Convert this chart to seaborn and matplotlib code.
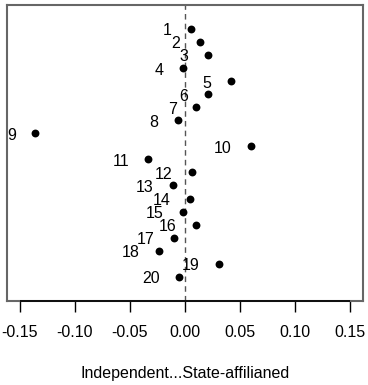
import numpy as np
import pandas as pd
import matplotlib
matplotlib.use('Agg')
import matplotlib.pyplot as plt
import seaborn as sns

# point estimates, in display order (top to bottom)
labels = [str(i) for i in range(1, 21)]
estimates = [0.0055, 0.0134, 0.0206, -0.0021, 0.0415, 0.0209, 0.0103, -0.0067,
             -0.136, 0.0597, -0.0333, 0.0064, -0.0109, 0.0048, -0.0018, 0.0103,
             -0.0100, -0.0233, 0.0309, -0.0052]
xticks = [-0.15, -0.10, -0.05, 0.00, 0.05, 0.10, 0.15]
xlabel = 'Independent...State-affilianed'

df = pd.DataFrame({'label': labels, 'est': estimates, 'rank': np.arange(1, len(labels) + 1)})

sns.set_style('white')
plt.rcParams['font.family'] = ['Liberation Sans', 'DejaVu Sans']
plt.rcParams['axes.unicode_minus'] = False
plt.rcParams['text.color'] = 'black'
plt.rcParams['axes.labelcolor'] = 'black'
plt.rcParams['xtick.color'] = 'black'

fig = plt.figure(figsize=(3.68, 3.85), dpi=100)
ax = fig.add_axes([7.3 / 368, 1 - 301 / 385, (362.7 - 7.3) / 368, 296 / 385])

ax.axvline(0, color='#555555', lw=1.0, ls=(0, (4, 3)), zorder=1)
sns.scatterplot(data=df, x='est', y='rank', color='black', s=32, edgecolor='black',
                linewidth=0, ax=ax, zorder=3)

for _, row in df.iterrows():
    ax.annotate(row['label'], (row['est'], row['rank']), xytext=(-14, -0.3),
                textcoords='offset points', ha='right', va='center_baseline',
                fontsize=11.5, color='black', annotation_clip=False)

ax.set_xlim(-0.1615, 0.1615)
ax.set_ylim(21.86, -0.84)
ax.set_yticks([])
ax.set_xticks(xticks)
ax.set_xticklabels([f'{t:.2f}' for t in xticks], fontsize=11.5)
ax.tick_params(axis='x', bottom=True, length=8, width=1.0, color='black',
               labelcolor='black', pad=9)
ax.set_xlabel(xlabel, fontsize=11.5, labelpad=19, color='black')
ax.set_ylabel('')

for sp in ax.spines.values():
    sp.set_color('#666666')
    sp.set_linewidth(1.5)

# axis line under the tick range, like base R
ax.hlines(ax.get_ylim()[0], xticks[0], xticks[-1], color='black', lw=1.2,
          clip_on=False, zorder=5)

fig.savefig('out.png', dpi=100)
